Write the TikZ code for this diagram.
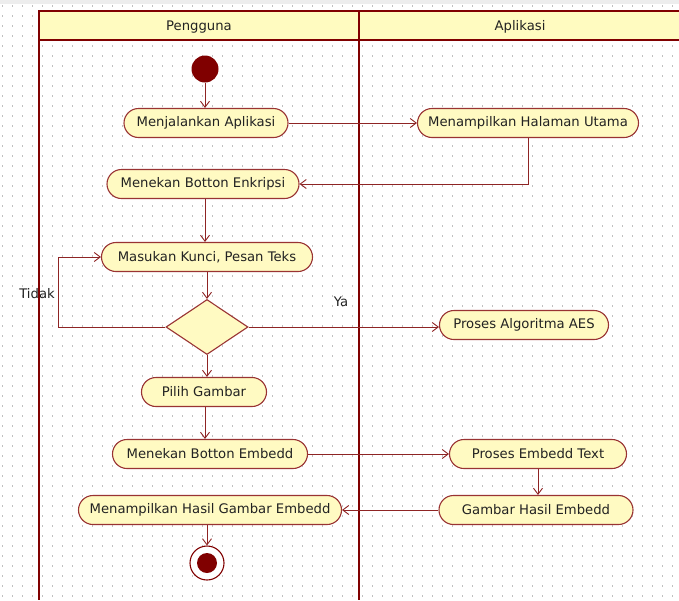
\documentclass[tikz,border=0pt]{standalone}
\usepackage{fontspec}
\setmainfont{DejaVu Sans}
\usetikzlibrary{arrows.meta,shapes.geometric}
\definecolor{lanecol}{HTML}{800000}
\definecolor{edgecol}{HTML}{8E2424}
\definecolor{nodeborder}{HTML}{993333}
\definecolor{nodefill}{HTML}{FFFAC2}
\definecolor{headfill}{HTML}{FFFBC0}
\definecolor{txtcol}{HTML}{222222}
\definecolor{dotcol}{HTML}{C0C0C0}
\tikzset{
  act/.style={draw=nodeborder, line width=1.1pt, fill=nodefill, rounded corners=14.5pt,
    minimum height=29pt, inner sep=0pt, text=txtcol, font=\fontsize{13.2}{15}\selectfont},
  decide/.style={diamond, draw=nodeborder, line width=1.1pt, fill=nodefill,
    minimum width=82pt, minimum height=55pt, inner sep=0pt, aspect=1.5},
  flow/.style={draw=edgecol, line width=0.9pt, -{Straight Barb[length=6pt,width=9pt,line width=0.9pt]}},
  lane/.style={draw=lanecol, line width=2.6pt},
  lbl/.style={text=txtcol, font=\fontsize{13.2}{15}\selectfont, inner sep=0pt}
}
\begin{document}
\begin{tikzpicture}[x=1pt, y=-1pt]
  % canvas
  \useasboundingbox (0,0) rectangle (679,600);
  \fill[white] (0,0) rectangle (679,600);
  \fill[black!7] (0,0) rectangle (679,4);
  % dotted grid
  \foreach \gy in {6,16,...,596}
    \draw[dotcol, line width=1.1pt, dash pattern=on 1.1pt off 8.9pt] (2,\gy) -- (679,\gy);

  % swimlane headers
  \fill[headfill] (39,11) rectangle (679,40);
  \draw[lane] (679,11) -- (39,11) -- (39,600);
  \draw[lane] (39,40) -- (679,40);
  \draw[lane] (359,11) -- (359,600);
  \node[lbl] (h1) at (199,27) {Pengguna};
  \node[lbl] (h2) at (520,27) {Aplikasi};

  % start and end
  \node[circle, fill=lanecol, minimum size=27pt, inner sep=0pt] (start) at (205,69) {};
  \node[circle, draw=lanecol, line width=1.1pt, fill=white, minimum size=34pt, inner sep=0pt] (endo) at (207,563) {};
  \node[circle, fill=lanecol, minimum size=20pt, inner sep=0pt] (endi) at (207,563) {};

  % activities
  \node[act, minimum width=164pt] (jalan) at (206,123) {Menjalankan Aplikasi};
  \node[act, minimum width=221pt] (utama) at (528,123) {Menampilkan Halaman Utama};
  \node[act, minimum width=192pt] (enkrip) at (203,184) {Menekan Botton Enkripsi};
  \node[act, minimum width=211pt] (masuk) at (207,257) {Masukan Kunci, Pesan Teks};
  \node[decide] (dec) at (207,327) {};
  \node[act, minimum width=169pt] (aes) at (524,325) {Proses Algoritma AES};
  \node[act, minimum width=125pt] (pilih) at (204,392) {Pilih Gambar};
  \node[act, minimum width=195pt] (embed) at (210,454) {Menekan Botton Embedd};
  \node[act, minimum width=177pt] (proses) at (538,454) {Proses Embedd Text};
  \node[act, minimum width=194pt] (gambar) at (536,510) {Gambar Hasil Embedd};
  \node[act, minimum width=263pt] (hasil) at (210,510) {Menampilkan Hasil Gambar Embedd};

  % flows
  \draw[flow] (start) -- (start |- jalan.north);
  \draw[flow] (jalan.east) -- (utama.west);
  \draw[flow] (utama.south) |- (enkrip.east);
  \draw[flow] ([xshift=2pt]enkrip.south) -- ([xshift=2pt]enkrip.south |- masuk.north);
  \draw[flow] (masuk.south) -- (dec.north);
  \coordinate (loopL) at (58,327);
  \draw[flow] (dec.west) -- (loopL) |- (masuk.west);
  \node[lbl] (tidak) at (37,294) {Tidak};
  \draw[flow] (dec.east) -- (dec.east -| aes.west);
  \node[lbl] (ya) at (341,302) {Ya};
  \draw[flow] (dec.south) -- (dec.south |- pilih.north);
  \draw[flow] ([xshift=1pt]pilih.south) -- ([xshift=1pt]pilih.south |- embed.north);
  \draw[flow] (embed.east) -- (proses.west);
  \draw[flow] (proses.south) -- (proses.south |- gambar.north);
  \draw[flow] (gambar.west) -- (hasil.east);
  \draw[flow] ([xshift=-3pt]hasil.south) -- (endo.north);
\end{tikzpicture}
\end{document}
